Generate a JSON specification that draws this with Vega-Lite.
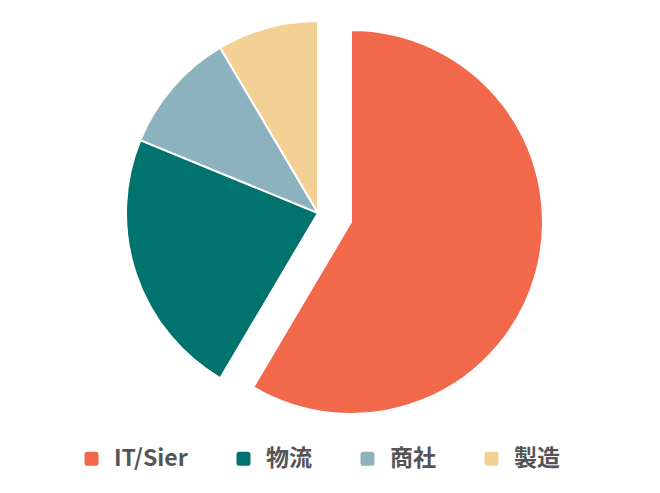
{
  "$schema": "https://vega.github.io/schema/vega-lite/v6.json",
  "width": 636,
  "height": 426,
  "autosize": {"type": "none"},
  "padding": {"top": 0, "left": 0, "right": 24, "bottom": 67},
  "background": "white",
  "config": {"view": {"stroke": null}},
  "data": {
    "values": [
      {"cat": "IT/Sier", "value": 58.5, "order": 1},
      {"cat": "物流", "value": 22.7, "order": 2},
      {"cat": "商社", "value": 10.3, "order": 3},
      {"cat": "製造", "value": 8.5, "order": 4}
    ]
  },
  "encoding": {
    "theta": {"field": "value", "type": "quantitative", "stack": true},
    "order": {"field": "order", "type": "quantitative"},
    "color": {
      "field": "cat",
      "type": "nominal",
      "scale": {
        "domain": ["IT/Sier", "物流", "商社", "製造"],
        "range": ["#F1694A", "#00736F", "#8CB1BF", "#F3D194"]
      },
      "legend": {
        "title": null,
        "orient": "none",
        "direction": "horizontal",
        "legendX": 80,
        "legendY": 447,
        "symbolType": "M-0.6,-1 L0.6,-1 Q1,-1 1,-0.6 L1,0.6 Q1,1 0.6,1 L-0.6,1 Q-1,1 -1,0.6 L-1,-0.6 Q-1,-1 -0.6,-1 Z",
        "symbolSize": 196,
        "symbolStrokeWidth": 0,
        "labelFont": "Noto Sans CJK JP",
        "labelFontSize": 23,
        "labelFontWeight": "bold",
        "labelColor": "#555555",
        "labelOffset": 11,
        "columnPadding": 44,
        "padding": 0
      }
    }
  },
  "layer": [
    {
      "mark": {"type": "arc", "outerRadius": 192, "stroke": "white", "strokeWidth": 2},
      "encoding": {
        "opacity": {"condition": {"test": "datum.cat === 'IT/Sier'", "value": 0}, "value": 1}
      }
    },
    {
      "mark": {"type": "arc", "outerRadius": 192, "stroke": "white", "strokeWidth": 2, "xOffset": 33, "yOffset": 9},
      "encoding": {
        "opacity": {"condition": {"test": "datum.cat !== 'IT/Sier'", "value": 0}, "value": 1}
      }
    }
  ]
}
